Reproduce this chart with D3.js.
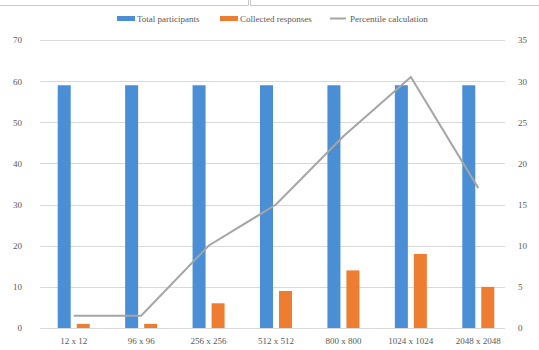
<!DOCTYPE html>
<html lang="en">
<head>
<meta charset="UTF-8">
<title>Participants and responses</title>
<script src="https://cdn.jsdelivr.net/npm/d3@7"></script>
<style>
    body { margin: 0; background: #fff; }
    text { font-family: "Liberation Serif", "DejaVu Serif", serif; font-size: 9px; fill: #595959; }
    .grid line { stroke: #d9d9d9; stroke-width: 1; shape-rendering: crispEdges; }
    .axis path, .axis line { display: none; }
</style>
</head>
<body>
<script>
    var categories = ["12 x 12", "96 x 96", "256 x 256", "512 x 512", "800 x 800", "1024 x 1024", "2048 x 2048"];
    var totalParticipants = [59, 59, 59, 59, 59, 59, 59];
    var collectedResponses = [1, 1, 6, 9, 14, 18, 10];
    var percentile = [1.5, 1.5, 10, 15, 23.3, 30.5, 17];
    var leftTicks = [0, 10, 20, 30, 40, 50, 60, 70];
    var rightTicks = [0, 5, 10, 15, 20, 25, 30, 35];

    var width = 539, height = 350;
    var margin = {top: 40, right: 27, bottom: 22, left: 40};
    var innerW = width - margin.left - margin.right,
        innerH = height - margin.top - margin.bottom;

    var svg = d3.select("body").append("svg")
        .attr("width", width)
        .attr("height", height);

    // frame bits seen along the top edge
    svg.append("path")
        .attr("d", "M0,5.5H248.5V0M250.5,0V5.5H539M8.5,8V350")
        .attr("fill", "none")
        .attr("stroke", "#c8c8c8")
        .attr("stroke-width", 1);
    svg.select("path").attr("d", "M0,5.5H248.5V0M250.5,0V5.5H539");

    var g = svg.append("g")
        .attr("transform", "translate(" + margin.left + "," + margin.top + ")");

    var x = d3.scaleBand().domain(categories).range([0, innerW]);
    var yL = d3.scaleLinear().domain([0, 70]).range([innerH, 0]);
    var yR = d3.scaleLinear().domain([0, 35]).range([innerH, 0]);

    g.append("g").attr("class", "grid")
        .selectAll("line")
        .data(leftTicks)
        .enter().append("line")
        .attr("x1", 0).attr("x2", innerW - 7)
        .attr("y1", function (d) { return Math.round(yL(d)) + 0.5; })
        .attr("y2", function (d) { return Math.round(yL(d)) + 0.5; });

    var barW = 13, off = 9.5;

    g.selectAll(".total")
        .data(totalParticipants)
        .enter().append("rect")
        .attr("class", "total")
        .attr("x", function (d, i) { return x(categories[i]) + x.bandwidth() / 2 - off - barW / 2; })
        .attr("y", function (d) { return yL(d); })
        .attr("width", barW)
        .attr("height", function (d) { return innerH - yL(d); })
        .attr("fill", "#4a8ed6");

    g.selectAll(".resp")
        .data(collectedResponses)
        .enter().append("rect")
        .attr("class", "resp")
        .attr("x", function (d, i) { return x(categories[i]) + x.bandwidth() / 2 + off - barW / 2; })
        .attr("y", function (d) { return yL(d); })
        .attr("width", barW)
        .attr("height", function (d) { return innerH - yL(d); })
        .attr("fill", "#ee7d31");

    var line = d3.line()
        .x(function (d, i) { return x(categories[i]) + x.bandwidth() / 2; })
        .y(function (d) { return yR(d); });

    g.append("path")
        .datum(percentile)
        .attr("d", line)
        .attr("fill", "none")
        .attr("stroke", "#a5a5a5")
        .attr("stroke-width", 2);

    g.append("g").attr("class", "axis")
        .attr("transform", "translate(-14,0)")
        .call(d3.axisLeft(yL).tickValues(leftTicks).tickSize(0).tickPadding(4));

    g.append("g").attr("class", "axis")
        .attr("transform", "translate(" + (innerW + 2) + ",0)")
        .call(d3.axisRight(yR).tickValues(rightTicks).tickSize(0).tickPadding(4));

    g.append("g").attr("class", "axis")
        .attr("transform", "translate(0," + innerH + ")")
        .call(d3.axisBottom(x).tickSize(0).tickPadding(10));

    g.selectAll(".axis text")
        .attr("font-family", null).attr("font-size", null).attr("fill", null);

    // legend
    var legendItems = [
        {name: "Total participants", color: "#4a8ed6", type: "rect", x: 117},
        {name: "Collected responses", color: "#ee7d31", type: "rect", x: 220},
        {name: "Percentile calculation", color: "#a5a5a5", type: "line", x: 330}
    ];
    var lg = svg.append("g").attr("transform", "translate(0,19)");
    var item = lg.selectAll("g").data(legendItems).enter().append("g")
        .attr("transform", function (d) { return "translate(" + d.x + ",0)"; });
    item.filter(function (d) { return d.type === "rect"; })
        .append("rect")
        .attr("x", 0).attr("y", -3).attr("width", 18).attr("height", 5)
        .attr("fill", function (d) { return d.color; });
    item.filter(function (d) { return d.type === "line"; })
        .append("line")
        .attr("x1", 0).attr("x2", 16).attr("y1", -0.5).attr("y2", -0.5)
        .attr("stroke", function (d) { return d.color; })
        .attr("stroke-width", 2);
    item.append("text")
        .attr("x", 20).attr("y", 3)
        .text(function (d) { return d.name; });
</script>
</body>
</html>
